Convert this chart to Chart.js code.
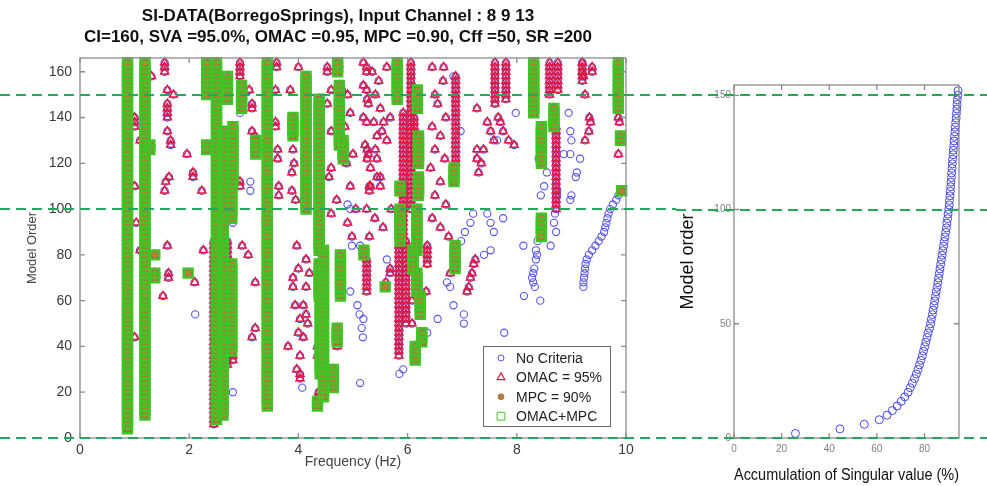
<!DOCTYPE html>
<html>
<head>
<meta charset="utf-8">
<script src="https://cdn.jsdelivr.net/npm/chart.js@4.4.1/dist/chart.umd.min.js"></script>
<style>
  html, body { margin: 0; padding: 0; background: #fff; }
  #wrap { position: relative; width: 987px; height: 486px; overflow: hidden; }
  #stab { position: absolute; left: 0; top: 0; }
  #svd { position: absolute; left: 676px; top: 0; }
</style>
</head>
<body>
<div id="wrap">
  <canvas id="stab" width="676" height="486"></canvas>
  <canvas id="svd" width="311" height="486"></canvas>
</div>
<script>
// stable poles (OMAC + MPC both met): [freq Hz, lowest order, highest order], orders step by 2
const stableCols = [
  [0.87, 4, 164], [1.19, 10, 164], [1.28, 126, 128], [1.37, 70, 72], [1.37, 80, 80], [1.98, 72, 72],
  [2.32, 150, 164], [2.32, 126, 128], [2.5, 8, 164], [2.62, 10, 134], [2.7, 148, 158],
  [2.8, 112, 136], [2.78, 96, 110], [2.78, 38, 76], [2.96, 144, 154], [3.22, 124, 130],
  [3.43, 14, 164], [3.9, 132, 140], [4.14, 100, 158], [4.38, 82, 148], [4.46, 18, 82],
  [4.38, 62, 76], [4.4, 28, 62], [4.64, 22, 30], [4.77, 62, 80], [4.71, 42, 48], [4.35, 14, 16],
  [4.72, 160, 164], [4.75, 128, 154], [4.82, 122, 130], [5.2, 80, 82], [5.59, 66, 66],
  [5.81, 148, 164], [5.86, 86, 100], [5.86, 108, 110], [6.18, 144, 152], [6.2, 120, 132],
  [6.2, 106, 114], [6.17, 82, 100], [6.1, 74, 82], [6.17, 64, 72], [6.23, 54, 62], [6.26, 42, 46],
  [6.14, 34, 40], [6.85, 112, 118], [6.87, 74, 84], [8.31, 142, 164], [8.45, 120, 136],
  [8.68, 136, 144], [8.45, 88, 96], [9.86, 144, 164], [9.9, 130, 132], [9.92, 108, 108]
];

// OMAC-only runs: [freq Hz, lowest order, highest order]
const omacCols = [
  [1.0, 136, 140], [1.55, 160, 164], [1.6, 140, 146], [1.66, 128, 130], [2.93, 158, 164],
  [2.45, 6, 86], [2.7, 32, 86], [5.25, 64, 78], [5.92, 88, 142], [6.06, 100, 164],
  [6.12, 120, 140], [5.84, 36, 84], [5.97, 50, 86], [6.36, 76, 84], [6.88, 120, 158],
  [7.6, 146, 164], [7.8, 148, 164], [8.6, 150, 164], [8.75, 152, 164], [8.72, 100, 136],
  [9.2, 156, 164]
];

// single OMAC-only poles: [freq Hz, order]
const omacPts = [
  [1.31, 158], [1.1, 130], [1.0, 110], [1.03, 94], [1.6, 152], [1.71, 150], [1.6, 134],
  [1.63, 114], [1.57, 112], [1.55, 108], [1.96, 124], [2.07, 116], [2.07, 114], [2.23, 108],
  [2.93, 112], [2.93, 110], [3.1, 152], [3.15, 146], [3.15, 144], [3.15, 134], [3.2, 132],
  [3.6, 164], [3.6, 162], [3.58, 152], [3.58, 138], [3.58, 136], [3.62, 126], [3.62, 122],
  [3.64, 110], [3.64, 106], [3.85, 152], [3.9, 126], [3.92, 120], [3.88, 116], [3.88, 108],
  [3.95, 104], [4.0, 162],
  [4.53, 162], [4.53, 160], [4.6, 152], [4.53, 146], [4.8, 152], [4.83, 124], [4.6, 118],
  [4.56, 114], [4.7, 104], [4.6, 98], [4.9, 150], [4.95, 142], [4.85, 136], [4.6, 134],
  [4.88, 120], [4.95, 110], [5.0, 124], [4.9, 94], [5.05, 100], [4.98, 88],
  [5.25, 162], [5.25, 160], [5.25, 152], [5.28, 146], [5.25, 138], [5.26, 126], [5.28, 124],
  [5.3, 110], [5.3, 108],
  [5.19, 164], [5.35, 160], [5.47, 156], [5.62, 162], [5.19, 154], [5.41, 150], [5.26, 148],
  [5.5, 144], [5.19, 140], [5.38, 138], [5.56, 138], [5.68, 140], [5.53, 134], [5.44, 132],
  [5.62, 130], [5.22, 128], [5.41, 126], [5.26, 122], [5.44, 122], [5.32, 118], [5.5, 114],
  [5.32, 110], [5.5, 110], [5.44, 114], [5.25, 100], [5.4, 96], [5.55, 92], [5.3, 88], [5.7, 100],
  [6.45, 162], [6.66, 162], [6.65, 156], [6.5, 150], [6.55, 146], [6.7, 140], [6.45, 136],
  [6.6, 132], [6.5, 126], [6.68, 122], [6.42, 118], [6.6, 112], [6.5, 106], [6.7, 102],
  [6.45, 96], [6.6, 92], [6.75, 88],
  [7.27, 144], [7.27, 126], [7.27, 122], [7.46, 138], [7.52, 134], [7.58, 130], [7.66, 140],
  [7.7, 138], [7.75, 134], [7.85, 130], [7.95, 128], [7.39, 126], [7.35, 120], [7.3, 116],
  [9.2, 164], [9.2, 160], [9.22, 158], [9.38, 162], [9.38, 160], [9.25, 150], [9.33, 140],
  [9.35, 138], [9.32, 134], [9.25, 130], [9.86, 140], [9.88, 138], [9.86, 124],
  [1.1, 82], [1.6, 84], [1.62, 72], [1.62, 70], [1.52, 62], [1.0, 44], [2.1, 68], [2.26, 82],
  [2.8, 36], [2.8, 34], [2.97, 84], [3.08, 80], [3.21, 68], [3.21, 48], [3.15, 44], [3.81, 40],
  [3.97, 84], [4.0, 74], [3.9, 70], [3.9, 66], [4.14, 78], [4.2, 72], [4.14, 66], [3.94, 58],
  [4.09, 58], [4.14, 54], [4.03, 52], [4.17, 50], [4.0, 46], [4.09, 44], [4.03, 36], [3.97, 30],
  [4.03, 28], [4.03, 26], [4.35, 40], [4.35, 36], [4.37, 20], [4.37, 18], [4.71, 40],
  [5.68, 74], [5.68, 72], [5.6, 68], [6.34, 64], [6.08, 60], [6.08, 50], [6.78, 72],
  [7.24, 78], [7.21, 76], [7.18, 72], [7.15, 70], [7.12, 66], [7.09, 64]
];

// poles meeting no criterion: [freq Hz, order]
const rawPts = [
  [2.11, 54], [2.8, 20], [4.07, 22], [2.93, 142], [2.8, 94], [3.12, 112], [3.12, 108], [4.9, 102],
  [4.95, 100], [4.98, 84],
  [5.13, 84], [5.17, 82], [5.62, 78], [4.95, 64], [5.08, 58], [5.12, 54], [5.19, 52], [5.16, 48],
  [5.18, 44], [5.13, 24], [5.85, 28], [5.92, 30], [6.36, 46], [6.55, 52], [6.72, 68], [6.78, 66],
  [6.84, 58], [7.03, 54], [7.03, 50], [7.4, 80], [7.77, 46],
  [6.84, 158], [6.97, 134], [7.98, 142], [7.64, 130],
  [7.2, 98], [7.15, 94], [7.46, 98], [7.52, 94], [7.58, 90], [7.75, 96], [7.52, 82], [6.98, 86], [7.05, 90],
  [8.12, 84], [8.38, 86], [8.62, 84], [8.35, 82], [8.37, 80], [8.35, 78], [8.32, 74], [8.3, 72],
  [8.28, 70], [8.3, 68], [8.33, 66], [8.13, 62], [8.43, 60],
  [9.22, 66], [9.22, 68], [9.23, 70], [9.24, 72], [9.25, 74], [9.26, 76], [9.28, 78], [9.32, 80],
  [9.38, 82], [9.44, 84], [9.5, 86], [9.55, 88], [9.6, 90], [9.62, 92], [9.64, 94], [9.66, 96],
  [9.68, 98], [9.71, 100], [9.76, 102], [9.82, 104], [9.86, 106],
  [8.95, 142], [8.98, 134], [9.0, 130], [8.86, 124], [8.98, 124], [9.16, 122], [9.1, 116],
  [9.08, 114], [9.0, 106], [8.98, 104], [8.55, 116], [8.5, 110], [8.44, 106], [8.74, 108],
  [8.74, 106], [8.4, 122], [8.7, 98], [8.68, 94], [8.72, 90]
];

// accumulated singular value (%) per model order
const svdOrders = [
  2, 4, 6, 8, 10, 12, 14, 16, 18, 20, 22, 24, 26, 28, 30, 32, 34, 36, 38, 40,
  42, 44, 46, 48, 50, 52, 54, 56, 58, 60, 62, 64, 66, 68, 70, 72, 74, 76, 78, 80,
  82, 84, 86, 88, 90, 92, 94, 96, 98, 100, 102, 104, 106, 108, 110, 112, 114, 116, 118, 120,
  122, 124, 126, 128, 130, 132, 134, 136, 138, 140, 142, 144, 146, 148, 150, 152
];
const svdAccum = [
  25.8, 44.5, 54.7, 61.0, 64.3, 66.5, 68.5, 70.2, 71.7, 73.1,
  74.0, 74.9, 75.8, 76.6, 77.3, 77.9, 78.5, 79.1, 79.6, 80.1,
  80.6, 81.1, 81.5, 82.1, 82.6, 82.9, 83.3, 83.6, 84.0, 84.3,
  84.6, 84.9, 85.3, 85.6, 85.9, 86.2, 86.5, 86.8, 87.1, 87.4,
  87.7, 88.0, 88.3, 88.6, 88.9, 89.2, 89.4, 89.7, 89.9, 90.2,
  90.4, 90.5, 90.7, 90.8, 91.0, 91.1, 91.3, 91.4, 91.6, 91.7,
  91.8, 92.0, 92.1, 92.3, 92.4, 92.6, 92.8, 92.9, 93.1, 93.3,
  93.4, 93.6, 93.7, 93.8, 94.0, 94.1
];

const titleLines = [
  'SI-DATA(BorregoSprings), Input Channel : 8 9 13',
  'CI=160, SVA =95.0%, OMAC =0.95, MPC =0.90, Cff =50, SR =200'
];
const refOrders = [0, 100, 150];
const freqTicks = [0, 2, 4, 6, 8, 10];
const orderTicks = [0, 20, 40, 60, 80, 100, 120, 140, 160];
const accTicks = [0, 20, 40, 60, 80];
const svdOrderTicks = [0, 50, 100, 150];

const FONT = '"Liberation Sans", Arial, sans-serif';
Chart.defaults.font.family = FONT;
Chart.defaults.animation = false;

function expand(cols) {
  const pts = [];
  cols.forEach(([f, lo, hi]) => {
    for (let n = lo; n <= hi; n += 2) pts.push({ x: f, y: n });
  });
  return pts;
}
const toXY = arr => arr.map(([f, n]) => ({ x: f, y: n }));

const stablePts = expand(stableCols);
const omacOnly = expand(omacCols).concat(toXY(omacPts));
const allPts = stablePts.concat(omacOnly, toXY(rawPts));

function keepTicks(list) {
  return scale => { scale.ticks = list.map(v => ({ value: v })); };
}

// two-line bold title centred on the canvas
const twoLineTitle = {
  id: 'twoLineTitle',
  afterDraw(chart) {
    const { ctx, width } = chart;
    ctx.save();
    ctx.fillStyle = '#111';
    ctx.font = 'bold 17px ' + FONT;
    ctx.textAlign = 'center';
    ctx.textBaseline = 'middle';
    titleLines.forEach((t, i) => ctx.fillText(t, width / 2, 16 + i * 21));
    ctx.restore();
  }
};

// MATLAB-like box with inward ticks on all four sides
const boxTicks = {
  id: 'boxTicks',
  afterDatasetsDraw(chart) {
    const { ctx, chartArea: a, scales: { x, y } } = chart;
    ctx.save();
    ctx.strokeStyle = '#8c8c8c';
    ctx.lineWidth = 1.3;
    ctx.strokeRect(a.left, a.top, a.right - a.left, a.bottom - a.top);
    ctx.beginPath();
    x.ticks.forEach(t => {
      const px = x.getPixelForValue(t.value);
      ctx.moveTo(px, a.bottom); ctx.lineTo(px, a.bottom - 5);
      ctx.moveTo(px, a.top); ctx.lineTo(px, a.top + 5);
    });
    y.ticks.forEach(t => {
      const py = y.getPixelForValue(t.value);
      ctx.moveTo(a.left, py); ctx.lineTo(a.left + 5, py);
      ctx.moveTo(a.right, py); ctx.lineTo(a.right - 5, py);
    });
    ctx.stroke();
    ctx.restore();
  }
};

// green dashed reference orders across the whole canvas
const orderLines = {
  id: 'orderLines',
  afterDraw(chart) {
    const { ctx, width, scales: { y } } = chart;
    ctx.save();
    ctx.strokeStyle = 'rgb(34,170,90)';
    ctx.lineWidth = 2;
    ctx.setLineDash([10, 6]);
    refOrders.forEach(v => {
      const py = Math.round(y.getPixelForValue(v));
      ctx.beginPath();
      ctx.moveTo(0, py);
      ctx.lineTo(width, py);
      ctx.stroke();
    });
    ctx.restore();
  }
};

// legend box inside the lower right of the plot
const boxLegend = {
  id: 'boxLegend',
  afterDatasetsDraw(chart) {
    const { ctx, chartArea: a } = chart;
    const w = 127, h = 80;
    const left = a.right - 16 - w, top = a.bottom - 12 - h;
    ctx.save();
    ctx.fillStyle = '#fff';
    ctx.fillRect(left, top, w, h);
    ctx.strokeStyle = '#6a6a6a';
    ctx.lineWidth = 1;
    ctx.strokeRect(left + 0.5, top + 0.5, w, h);
    chart.data.datasets.forEach((ds, i) => {
      const cy = top + 12 + i * 19.4;
      ctx.fillStyle = ds.backgroundColor;
      ctx.strokeStyle = ds.borderColor;
      ctx.lineWidth = ds.legendBorder;
      Chart.helpers.drawPoint(ctx, {
        pointStyle: ds.pointStyle, radius: ds.legendRadius, borderWidth: ds.legendBorder, rotation: 0
      }, left + 18, cy);
      ctx.fillStyle = '#222';
      ctx.font = '14px ' + FONT;
      ctx.textBaseline = 'middle';
      ctx.fillText(ds.label, left + 33, cy + 1);
    });
    ctx.restore();
  }
};

new Chart(document.getElementById('stab'), {
  type: 'scatter',
  data: {
    datasets: [
      {
        label: 'No Criteria', data: allPts, order: 4,
        pointStyle: 'circle', pointRadius: 3.6, legendRadius: 3, legendBorder: 1,
        borderColor: 'rgb(85,85,235)', backgroundColor: 'rgba(0,0,0,0)', borderWidth: 1.1
      },
      {
        label: 'OMAC = 95%', data: stablePts.concat(omacOnly), order: 3,
        pointStyle: 'triangle', pointRadius: 4.6, legendRadius: 4.5, legendBorder: 1.2,
        borderColor: 'rgb(226,24,66)', backgroundColor: 'rgba(0,0,0,0)', borderWidth: 1.5
      },
      {
        label: 'MPC = 90%', data: stablePts, order: 2,
        pointStyle: 'circle', pointRadius: 3.2, legendRadius: 3, legendBorder: 0.8,
        borderColor: 'rgb(160,110,90)', backgroundColor: 'rgb(186,128,44)', borderWidth: 0.6
      },
      {
        label: 'OMAC+MPC', data: stablePts, order: 1,
        pointStyle: 'rect', pointRadius: 6.2, legendRadius: 5.5, legendBorder: 1,
        borderColor: 'rgb(66,196,36)', backgroundColor: 'rgba(0,0,0,0)', borderWidth: 2.6
      }
    ]
  },
  options: {
    responsive: false,
    events: [],
    clip: 8,
    layout: { padding: { left: 0, right: 50, top: 58, bottom: 0 } },
    plugins: {
      legend: { display: false },
      tooltip: { enabled: false },
      title: { display: false }
    },
    scales: {
      x: {
        type: 'linear', min: 0, max: 10,
        afterBuildTicks: keepTicks(freqTicks),
        afterFit: s => { s.height = 48; },
        grid: { display: false, drawTicks: false }, border: { display: false },
        ticks: { color: '#3a3a3a', font: { size: 14 }, padding: 4 },
        title: { display: true, text: 'Frequency (Hz)', color: '#444', font: { size: 14 }, padding: { top: 0, bottom: 15 } }
      },
      y: {
        type: 'linear', min: 0, max: 166,
        afterBuildTicks: keepTicks(orderTicks),
        afterFit: s => { s.width = 80; },
        grid: { display: false, drawTicks: false }, border: { display: false },
        ticks: { color: '#3a3a3a', font: { size: 14 }, padding: 8 },
        title: { display: true, text: 'Model Order', color: '#444', font: { size: 13 }, padding: { top: 25, bottom: 0 } }
      }
    }
  },
  plugins: [boxTicks, boxLegend, orderLines, twoLineTitle]
});

new Chart(document.getElementById('svd'), {
  type: 'scatter',
  data: {
    datasets: [{
      label: 'Accumulation', data: svdAccum.map((v, i) => ({ x: v, y: svdOrders[i] })),
      pointStyle: 'circle', pointRadius: 4,
      borderColor: 'rgb(70,70,235)', backgroundColor: 'rgba(0,0,0,0)', borderWidth: 1
    }]
  },
  options: {
    responsive: false,
    events: [],
    clip: 8,
    layout: { padding: { left: 0, right: 28, top: 85, bottom: 0 } },
    plugins: { legend: { display: false }, tooltip: { enabled: false } },
    scales: {
      x: {
        type: 'linear', min: 0, max: 94.5,
        afterBuildTicks: keepTicks(accTicks),
        afterFit: s => { s.height = 48; },
        grid: { display: false, drawTicks: false }, border: { display: false },
        ticks: { color: '#808080', font: { size: 10 }, padding: 5 },
        title: { display: true, text: 'Accumulation of Singular value (%)', color: '#111', font: { size: 16 }, padding: { top: 0, bottom: 1 } }
      },
      y: {
        type: 'linear', min: 0, max: 154.5,
        afterBuildTicks: keepTicks(svdOrderTicks),
        afterFit: s => { s.width = 58; },
        grid: { display: false, drawTicks: false }, border: { display: false },
        ticks: { color: '#808080', font: { size: 10 }, padding: 3 },
        title: { display: true, text: 'Model order', color: '#111', font: { size: 18 }, padding: { top: 1, bottom: 0 } }
      }
    }
  },
  plugins: [boxTicks, orderLines]
});
</script>
</body>
</html>
